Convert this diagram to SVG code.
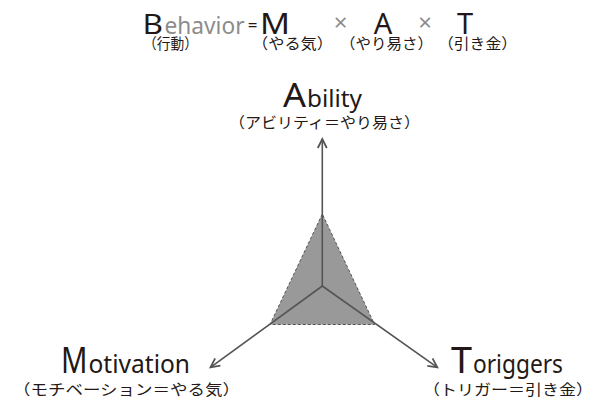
<svg xmlns="http://www.w3.org/2000/svg" width="601" height="403" viewBox="0 0 601 403">
<style>
text{font-family:"Noto Sans","Noto Sans CJK JP",sans-serif;fill:#231815}
.jp{font-family:"Noto Sans CJK JP",sans-serif;font-size:15px}
.g{fill:#8c8c8c}
.axis{stroke:#555;stroke-width:1.6;fill:none}
</style>
<defs>
<marker id="arr" markerUnits="userSpaceOnUse" markerWidth="14" markerHeight="14" refX="10" refY="6" orient="auto">
<path d="M1,1.5 L10,6 L1,10.5" fill="none" stroke="#555" stroke-width="1.8"/>
</marker>
</defs>
<g id="formula">
<text x="142.5" y="33.5" font-size="28" textLength="20.5" lengthAdjust="spacingAndGlyphs">B</text>
<text class="g" x="164.5" y="33.5" font-size="23" textLength="80" lengthAdjust="spacingAndGlyphs">ehavior</text>
<text x="252.5" y="31" font-size="17" text-anchor="middle">=</text>
<text x="260" y="33.5" font-size="29" textLength="30" lengthAdjust="spacingAndGlyphs">M</text>
<text x="340.5" y="31" font-size="24" text-anchor="middle" class="g">×</text>
<text x="383" y="33.5" font-size="29" text-anchor="middle">A</text>
<text x="425" y="31" font-size="24" text-anchor="middle" class="g">×</text>
<text x="465" y="33.5" font-size="29" text-anchor="middle">T</text>
<text class="jp" x="143" y="49" textLength="55" lengthAdjust="spacingAndGlyphs">（行動）</text>
<text class="jp" x="252" y="49" textLength="81" lengthAdjust="spacingAndGlyphs">（やる気）</text>
<text class="jp" x="340" y="49" textLength="93" lengthAdjust="spacingAndGlyphs">（やり易さ）</text>
<text class="jp" x="438" y="49" textLength="79" lengthAdjust="spacingAndGlyphs">（引き金）</text>
</g>
<g id="triangle">
<polygon points="322.3,214 270,324.5 374.6,324.5" fill="#999" stroke="#555" stroke-width="1" stroke-dasharray="3,2"/>
</g>
<g id="connectors">
<line class="axis" x1="322.3" y1="286" x2="322.3" y2="139" marker-end="url(#arr)"/>
<line class="axis" x1="322.3" y1="286" x2="210.5" y2="367.3" marker-end="url(#arr)"/>
<line class="axis" x1="322.3" y1="286" x2="437.3" y2="367.3" marker-end="url(#arr)"/>
</g>
<g id="ability">
<text x="283" y="106.5" font-size="32" textLength="23" lengthAdjust="spacingAndGlyphs">A</text>
<text x="307" y="106.5" font-size="24" textLength="55" lengthAdjust="spacingAndGlyphs">bility</text>
<text class="jp" x="229" y="128" font-size="16" textLength="191" lengthAdjust="spacingAndGlyphs">（アビリティ＝やり易さ）</text>
</g>
<g id="motivation">
<text x="61" y="373.3" font-size="37" textLength="26.5" lengthAdjust="spacingAndGlyphs">M</text>
<text x="88.5" y="373.3" font-size="25" textLength="101.5" lengthAdjust="spacingAndGlyphs">otivation</text>
<text class="jp" x="13" y="395" font-size="17" textLength="227" lengthAdjust="spacingAndGlyphs">（モチベーション＝やる気）</text>
</g>
<g id="triggers">
<text x="451" y="373.3" font-size="37" textLength="21" lengthAdjust="spacingAndGlyphs">T</text>
<text x="473" y="373.3" font-size="25" textLength="90" lengthAdjust="spacingAndGlyphs">origgers</text>
<text class="jp" x="423" y="395" font-size="17" textLength="170" lengthAdjust="spacingAndGlyphs">（トリガー＝引き金）</text>
</g>
</svg>
